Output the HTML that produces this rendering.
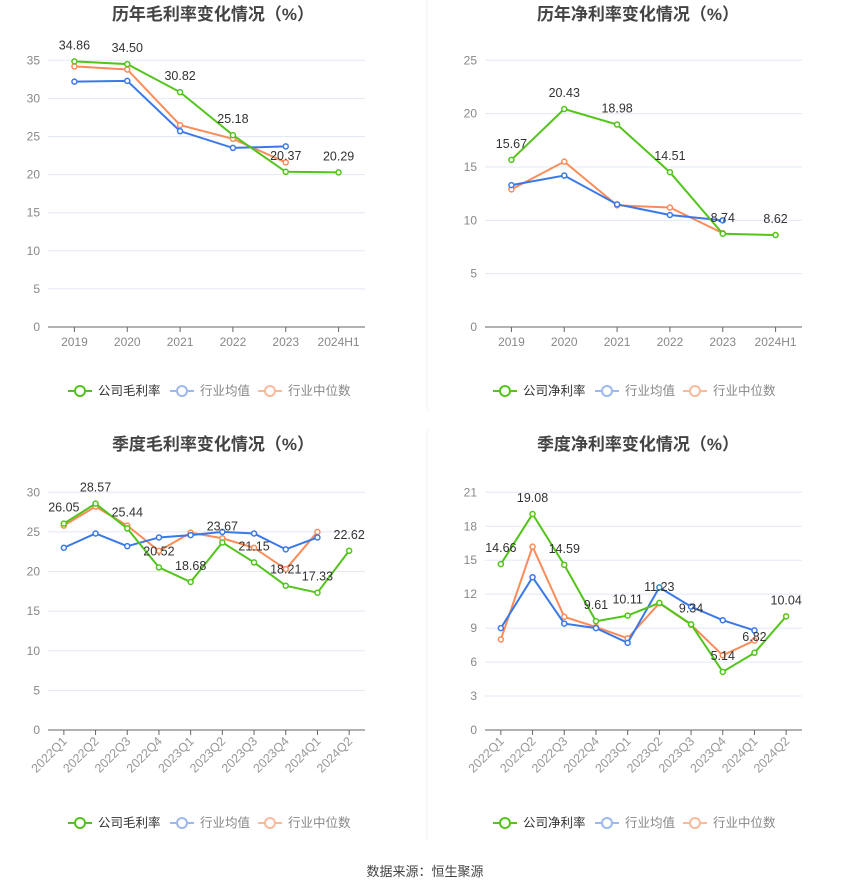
<!DOCTYPE html>
<html><head><meta charset="utf-8"><style>
body{margin:0;background:#fff;font-family:"Liberation Sans","Noto Sans CJK SC",sans-serif}
svg text{font-family:"Liberation Sans","Noto Sans CJK SC",sans-serif}
</style></head><body>
<svg id="s" width="850" height="891" xmlns="http://www.w3.org/2000/svg">
<line x1="427" y1="0" x2="427" y2="410" stroke="#f0f0f0"/>
<line x1="427" y1="430" x2="427" y2="840" stroke="#f0f0f0"/>
<text x="425" y="876" text-anchor="middle" font-size="13" fill="#444">数据来源：恒生聚源</text>
</svg>
<script>
const yearCats=["2019","2020","2021","2022","2023","2024H1"];
const qCats=["2022Q1","2022Q2","2022Q3","2022Q4","2023Q1","2023Q2","2023Q3","2023Q4","2024Q1","2024Q2"];
const gmCompany=[34.86,34.50,30.82,25.18,20.37,20.29];
const gmAvg=[32.2,32.3,25.7,23.5,23.7];
const gmMed=[34.2,33.8,26.5,24.7,21.6];
const gmTicks=[0,5,10,15,20,25,30,35];
const npCompany=[15.67,20.43,18.98,14.51,8.74,8.62];
const npAvg=[13.3,14.2,11.5,10.5,10.0];
const npMed=[12.9,15.5,11.4,11.2,8.8];
const npTicks=[0,5,10,15,20,25];
const qgCompany=[26.05,28.57,25.44,20.52,18.68,23.67,21.15,18.21,17.33,22.62];
const qgAvg=[23.0,24.8,23.2,24.3,24.6,25.0,24.8,22.8,24.3];
const qgMed=[25.8,28.2,25.8,22.6,24.9,24.2,23.0,20.3,25.0];
const qgTicks=[0,5,10,15,20,25,30];
const qnCompany=[14.66,19.08,14.59,9.61,10.11,11.23,9.34,5.14,6.82,10.04];
const qnAvg=[9.0,13.5,9.4,9.0,7.7,12.6,10.9,9.7,8.8];
const qnMed=[8.0,16.2,10.0,9.1,8.1,11.2,9.3,6.6,7.9];
const qnTicks=[0,3,6,9,12,15,18,21];

const NS="http://www.w3.org/2000/svg";
const svg=document.getElementById('s');
function el(tag,attrs,parent,txt){const e=document.createElementNS(NS,tag);for(const k in attrs)e.setAttribute(k,attrs[k]);if(txt!==undefined)e.textContent=txt;(parent||svg).appendChild(e);return e;}
const G="#52c41a",B="#3b78e7",O="#fa8c5a";
function chart(cfg){
  const g=el('g',{},svg);
  
  
  const t=el('text',{x:cfg.cx,y:cfg.ty,'text-anchor':'middle','font-size':17,'font-weight':'bold',fill:'#444'},g,cfg.title);
  
  
  const x0=cfg.x0,x1=cfg.x1,y0=cfg.y0,y1=cfg.y1,max=cfg.ticks[cfg.ticks.length-1];
  const n=cfg.cats.length,bw=(x1-x0)/n;
  const X=i=>x0+bw*(i+0.5);
  const Y=v=>y0-(v/max)*(y0-y1);
  cfg.ticks.forEach(v=>{
    if(v>0){const l=el('line',{x1:x0,x2:x1,y1:Y(v),y2:Y(v),stroke:'#e3e8f5'},g);
    
    }
    const tx=el('text',{x:x0-8,y:Y(v)+4,'text-anchor':'end','font-size':12,fill:'#888'},g,String(v));
    
    
  });
  const ax=el('line',{x1:x0,x2:x1,y1:y0,y2:y0,stroke:'#666'},g);
  
  
  cfg.cats.forEach((c,i)=>{
    el('line',{x1:X(i),x2:X(i),y1:y0,y2:y0+5,stroke:'#666'},g);
    let tx;
    if(cfg.rot){tx=el('text',{x:X(i)+4,y:y0+12,'text-anchor':'end','font-size':12.5,fill:'#999',transform:`rotate(-45 ${X(i)+4} ${y0+12})`},g,c);}
    else tx=el('text',{x:X(i),y:y0+19,'text-anchor':'middle','font-size':12,fill:'#888'},g,c);
    
    
  });
  [[cfg.med,O,'median-series'],[cfg.avg,B,'average-series'],[cfg.comp,G,'company-series']].forEach(([d,col,nm])=>{
    const p=el('polyline',{points:d.map((v,i)=>X(i)+','+Y(v)).join(' '),fill:'none',stroke:col,'stroke-width':2},g);
    
    
    d.forEach((v,i)=>{const c=el('circle',{cx:X(i),cy:Y(v),r:2.5,fill:'#fff',stroke:col,'stroke-width':1.5},g);
      
      });
  });
  cfg.comp.forEach((v,i)=>{const t=el('text',{x:X(i),y:Y(v)-cfg.lo,'text-anchor':'middle','font-size':12.5,fill:'#333'},g,v.toFixed(2));
    
    });
  const lx=cfg.cx-112,ly=cfg.ly;
  [[cfg.l1,G,'#333'],['行业均值','#9db8f0','#888'],['行业中位数','#fbb99b','#888']].forEach(([lab,col,tc],k)=>{
    const off=[0,102,190][k];
    const lg=el('g',{},g);
    
    
    el('line',{x1:lx+off-33,x2:lx+off-9,y1:ly,y2:ly,stroke:col,'stroke-width':2},lg);
    el('circle',{cx:lx+off-21,cy:ly,r:5,fill:'#fff',stroke:col,'stroke-width':2},lg);
    el('text',{x:lx+off-3,y:ly+4,'font-size':12.5,fill:tc},lg,lab);
  });
}
chart({name:'annual-gross-margin-chart',title:'历年毛利率变化情况（%）',cx:213,ty:20,x0:48,x1:365,y0:327,y1:60.3,cats:yearCats,ticks:gmTicks,comp:gmCompany,avg:gmAvg,med:gmMed,lo:12,rot:false,ly:391,l1:'公司毛利率'});
chart({name:'annual-net-margin-chart',title:'历年净利率变化情况（%）',cx:638,ty:20,x0:485,x1:802,y0:327,y1:60.3,cats:yearCats,ticks:npTicks,comp:npCompany,avg:npAvg,med:npMed,lo:12,rot:false,ly:391,l1:'公司净利率'});
chart({name:'quarterly-gross-margin-chart',title:'季度毛利率变化情况（%）',cx:213,ty:450,x0:48,x1:365,y0:730,y1:492.3,cats:qCats,ticks:qgTicks,comp:qgCompany,avg:qgAvg,med:qgMed,lo:12,rot:true,ly:823,l1:'公司毛利率'});
chart({name:'quarterly-net-margin-chart',title:'季度净利率变化情况（%）',cx:638,ty:450,x0:485,x1:802,y0:730,y1:492.3,cats:qCats,ticks:qnTicks,comp:qnCompany,avg:qnAvg,med:qnMed,lo:12,rot:true,ly:823,l1:'公司净利率'});
</script>
</body></html>
